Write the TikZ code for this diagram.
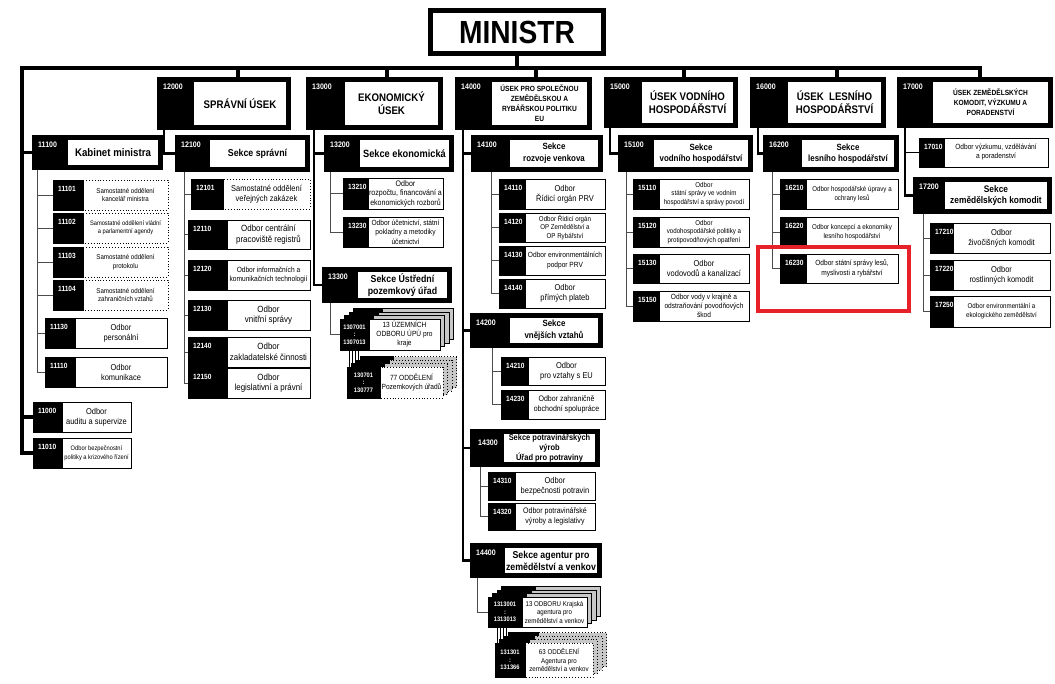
\documentclass[tikz,border=0pt]{standalone}
\usepackage{fontspec}
\setmainfont{Liberation Sans}[FakeStretch=0.88]
\usetikzlibrary{fit}
\definecolor{hl}{HTML}{E8202A}
\newcommand\fs[2]{\fontsize{#1}{#2}\selectfont}
\tikzset{
 busline/.style={line width=3.5pt},
 colline/.style={line width=2.4pt},
 subline/.style={line width=0.9pt, black!70},
 scode/.style={anchor=north west, inner sep=0pt, text=white, font=\fs{8}{9}\bfseries},
 stext/.style={align=center, inner sep=0pt, font=\fs{9.5}{11.5}\bfseries},
 ocode/.style={anchor=north west, inner sep=0pt, text=white, font=\fs{7.5}{9}\bfseries},
 otext/.style={align=center, inner sep=0pt, font=\fs{7.5}{9}},
 kcode/.style={align=center, inner sep=0pt, text=white, font=\fs{6.5}{7.5}\bfseries},
 wpart/.style={draw=black, line width=0.9pt, fill=white},
 gpart/.style={draw=black, line width=0.9pt, fill=black!22},
 dottedbox/.style={wpart/.append style={dotted}, gpart/.append style={dotted}},
 os/.style 2 args={otext/.append style={font=\fs{#1}{#2}}},
 ss/.style 2 args={stext/.append style={font=\fs{#1}{#2}\bfseries}},
}
% section box: [opts]{name}{x1}{inner x}{x2}{y1}{y2}{code}{title}
\newcommand\secbx[9][]{%
 \begin{scope}[#1]
 \fill[black] (#3,#6) rectangle (#5,#7);
 \fill[white] (#4,#6+5) rectangle (#5-5,#7-5);
 \path (#3,#6) coordinate (#2-nw) (#5,#7) coordinate (#2-se);
 \node[fit=(#2-nw)(#2-se), inner sep=0pt] (#2) {};
 \node[scode] at (#3+6,#6+7) {#8};
 \node[stext] at ({(#4+#5-5)/2},{(#6+#7)/2}) {#9};
 \end{scope}}
% odbor box: [opts]{name}{x1}{xb}{x2}{y1}{y2}{code}{title}
\newcommand\obx[9][]{%
 \begin{scope}[#1]
 \fill[black] (#3,#6) rectangle (#4,#7);
 \draw[wpart] (#4,#6) rectangle (#5,#7);
 \draw[line width=0.9pt] (#3,#6) rectangle (#4,#7);
 \path (#3,#6) coordinate (#2-nw) (#5,#7) coordinate (#2-se);
 \node[fit=(#2-nw)(#2-se), inner sep=0pt] (#2) {};
 \node[ocode] at (#3+5,#6+6) {#8};
 \node[otext] at ({(#4+#5)/2},{(#6+#7)/2}) {#9};
 \end{scope}}
% stacked boxes
\newcommand\stk[9][]{%
 \begin{scope}[#1]
 \foreach \i in {3,2,1}{
  \fill[black] (#3+4.5*\i,#6-3.5*\i) rectangle (#4+4.5*\i,#7-3.5*\i);
  \draw[gpart] (#4+4.5*\i,#6-3.5*\i) rectangle (#5+4.5*\i,#7-3.5*\i);
  \draw[line width=0.9pt] (#3+4.5*\i,#6-3.5*\i) rectangle (#4+4.5*\i,#7-3.5*\i);
 }
 \fill[black] (#3,#6) rectangle (#4,#7);
 \draw[wpart] (#4,#6) rectangle (#5,#7);
 \draw[line width=0.9pt] (#3,#6) rectangle (#4,#7);
 \path (#3,#6) coordinate (#2-nw) (#5,#7) coordinate (#2-se);
 \node[fit=(#2-nw)(#2-se), inner sep=0pt] (#2) {};
 \node[kcode] at ({(#3+#4)/2},{(#6+#7)/2}) {#8};
 \node[otext] at ({(#4+#5)/2},{(#6+#7)/2}) {#9};
 \end{scope}}

\begin{document}
\begin{tikzpicture}[x=1pt,y=-1pt]
\useasboundingbox (0,0) rectangle (1055,683);
\fill[white] (0,0) rectangle (1055,683);

\node[draw, line width=5pt, minimum width=173pt, minimum height=43pt, inner sep=0pt, font=\fs{32}{36}\bfseries] (ministr) at (517,32) {MINISTR};

% level 1
\secbx[ss={11}{13}]{n12000}{157}{194}{291}{77}{130}{12000}{SPRÁVNÍ ÚSEK}
\secbx[ss={11}{13}]{n13000}{306}{345}{443}{77}{130}{13000}{EKONOMICKÝ\\ÚSEK}
\secbx[ss={7.5}{10}]{n14000}{455}{492}{592}{77}{130}{14000}{ÚSEK PRO SPOLEČNOU\\ZEMĚDĚLSKOU A\\RYBÁŘSKOU POLITIKU\\EU}
\secbx[ss={11}{13}]{n15000}{604}{642}{738}{77}{128}{15000}{ÚSEK VODNÍHO\\HOSPODÁŘSTVÍ}
\secbx[ss={11}{13}]{n16000}{750}{788}{886}{77}{128}{16000}{ÚSEK\ \ LESNÍHO\\HOSPODÁŘSTVÍ}
\secbx[ss={7.5}{10}]{n17000}{897}{933}{1053}{77}{128}{17000}{ÚSEK ZEMĚDĚLSKÝCH\\KOMODIT, VÝZKUMU A\\PORADENSTVÍ}

% level 2
\secbx[ss={11}{13}]{n11100}{32}{68}{163}{135}{170}{11100}{Kabinet ministra}
\secbx[ss={10}{12}]{n12100}{175}{210}{310}{135}{172}{12100}{Sekce správní}
\secbx[ss={10.5}{12.5}]{n13200}{324}{360}{454}{135}{172}{13200}{Sekce ekonomická}
\secbx[ss={10}{12.5}]{n13300}{322}{358}{452}{267}{303}{13300}{Sekce Ústřední\\pozemkový úřad}
\secbx[ss={9}{12}]{n14100}{471}{510}{603}{135}{172}{14100}{Sekce\\rozvoje venkova}
\secbx[ss={9}{12}]{n14200}{470}{510}{603}{313}{348}{14200}{Sekce\\vnějších vztahů}
\secbx[ss={8.5}{10}, scode/.append style={xshift=2pt, yshift=-4pt}]{n14300}{470}{504}{600}{429}{467}{14300}{Sekce potravinářských\\výrob\\Úřad pro potraviny}
\secbx[ss={10}{12}]{n14400}{470}{505}{602}{543}{578}{14400}{Sekce agentur pro\\zemědělství a venkov}
\secbx[ss={9}{11.5}]{n15100}{618}{654}{753}{135}{172}{15100}{Sekce\\vodního hospodářství}
\secbx[ss={9}{11.5}]{n16200}{763}{802}{899}{135}{172}{16200}{Sekce\\lesního hospodářství}
\secbx[ss={9.5}{11.5}]{n17200}{913}{945}{1052}{177}{214}{17200}{Sekce\\zemědělských komodit}

% column 1
\obx[dottedbox, os={7}{8.5}]{n11101}{53}{83}{168}{180}{210}{11101}{Samostatné oddělení\\kancelář ministra}
\obx[dottedbox, os={6.5}{8.5}]{n11102}{53}{83}{168}{213}{243}{11102}{Samostatné oddělení vládní\\a parlamentní agendy}
\obx[dottedbox, os={7}{8.5}]{n11103}{53}{83}{168}{247}{277}{11103}{Samostatné oddělení\\protokolu}
\obx[dottedbox, os={7}{8.5}]{n11104}{53}{83}{168}{280}{310}{11104}{Samostatné oddělení\\zahraničních vztahů}
\obx[os={8.5}{10}]{n11130}{45}{75}{167}{318}{348}{11130}{Odbor\\personální}
\obx[os={8.5}{10}]{n11110}{45}{75}{167}{357}{387}{11110}{Odbor\\komunikace}
\obx[os={8.5}{10}]{n11000}{33}{62}{131}{402}{432}{11000}{Odbor\\auditu a supervize}
\obx[os={6.5}{9}]{n11010}{33}{62}{131}{438}{468}{11010}{Odbor bezpečnostní\\politiky a krizového řízení}

% column 2
\obx[dottedbox, os={8.5}{10}]{n12101}{191}{223}{310}{179}{209}{12101}{Samostatné oddělení\\veřejných zakázek}
\obx[os={9}{10.5}]{n12110}{188}{227}{310}{220}{249}{12110}{Odbor centrální\\pracoviště registrů}
\obx[os={7.5}{9.5}]{n12120}{188}{227}{310}{260}{290}{12120}{Odbor informačních a\\komunikačních technologií}
\obx[os={9}{10.5}]{n12130}{188}{227}{310}{300}{330}{12130}{Odbor\\vnitřní správy}
\obx[os={9}{10.5}]{n12140}{188}{227}{310}{337}{367}{12140}{Odbor\\zakladatelské činnosti}
\obx[os={9}{10.5}]{n12150}{188}{227}{310}{368}{398}{12150}{Odbor\\legislativní a právní}

% column 3
\obx[os={8}{9.5}]{n13210}{343}{368}{443}{178}{209}{13210}{Odbor\\rozpočtu, financování a\\ekonomických rozborů}
\obx[os={7.5}{9.5}]{n13230}{343}{368}{443}{217}{247}{13230}{Odbor účetnictví, státní\\pokladny a metodiky\\účetnictví}
\stk[os={7.5}{9}]{st1}{340}{369}{440}{319}{350}{1307001\\:\\1307013}{13 ÚZEMNÍCH\\ODBORU ÚPÚ pro\\kraje}
\stk[dottedbox, os={7.5}{9.5}]{st2}{347}{380}{443}{367}{398}{130701\\:\\130777}{77 ODDĚLENÍ\\Pozemkových úřadů}

% column 4
\obx[os={8.5}{10}]{n14110}{499}{525}{605}{179}{209}{14110}{Odbor\\Řídicí orgán PRV}
\obx[os={7}{8.5}]{n14120}{499}{525}{605}{213}{242}{14120}{Odbor Řídicí orgán\\OP Zemědělství a\\OP Rybářství}
\obx[os={7.5}{10}]{n14130}{499}{525}{605}{246}{275}{14130}{Odbor environmentálních\\podpor PRV}
\obx[os={8.5}{10}]{n14140}{499}{525}{605}{279}{308}{14140}{Odbor\\přímých plateb}
\obx[os={8.5}{10}]{n14210}{501}{528}{605}{357}{385}{14210}{Odbor\\pro vztahy s EU}
\obx[os={8}{10}]{n14230}{501}{528}{605}{390}{419}{14230}{Odbor zahraničně\\obchodní spolupráce}
\obx[os={8.5}{10}]{n14310}{488}{515}{595}{472}{500}{14310}{Odbor\\bezpečnosti potravin}
\obx[os={8}{10}]{n14320}{488}{515}{595}{503}{530}{14320}{Odbor potravinářské\\výroby a legislativy}
\stk[os={7}{8.5}]{st3}{488}{522}{587}{597}{627}{1313001\\:\\1313013}{13 ODBORU Krajská\\agentura pro\\zemědělství a venkov}
\stk[dottedbox, os={7}{8.5}]{st4}{495}{525}{593}{643}{677}{131301\\:\\131366}{63 ODDĚLENÍ\\Agentura pro\\zemědělství a venkov}

% column 5
\obx[os={7}{8.5}]{n15110}{633}{659}{749}{179}{209}{15110}{Odbor\\státní správy ve vodním\\hospodářství a správy povodí}
\obx[os={7}{8.5}]{n15120}{633}{659}{749}{217}{247}{15120}{Odbor\\vodohospodářské politiky a\\protipovodňových opatření}
\obx[os={8.5}{10}]{n15130}{633}{659}{749}{254}{283}{15130}{Odbor\\vodovodů a kanalizací}
\obx[os={7.5}{9}]{n15150}{633}{659}{749}{291}{321}{15150}{Odbor vody v krajině a\\odstraňování povodňových\\škod}

% column 6
\obx[os={7}{9}]{n16210}{780}{806}{898}{179}{209}{16210}{Odbor hospodářské úpravy a\\ochrany lesů}
\obx[os={7}{9}]{n16220}{780}{806}{898}{217}{247}{16220}{Odbor koncepcí a ekonomiky\\lesního hospodářství}
\obx[os={7.5}{9.5}]{n16230}{780}{806}{898}{254}{283}{16230}{Odbor státní správy lesů,\\myslivosti a rybářství}

% column 7
\obx[os={7.5}{9}]{n17010}{919}{944}{1048}{138}{167}{17010}{Odbor výzkumu, vzdělávání\\a poradenství}
\obx[os={8.5}{10}]{n17210}{930}{953}{1050}{223}{253}{17210}{Odbor\\živočišných komodit}
\obx[os={8.5}{10}]{n17220}{930}{953}{1050}{260}{290}{17220}{Odbor\\rostlinných komodit}
\obx[os={7}{9}]{n17250}{930}{953}{1050}{296}{327}{17250}{Odbor environmentální a\\ekologického zemědělství}

% ---- connectors ----
\coordinate (busL) at (22,68);
\coordinate (busR) at (980,68);
\coordinate (b12) at (238,68);
\coordinate (b13) at (387,68);
\coordinate (b14) at (536,68);
\coordinate (b15) at (684,68);
\coordinate (b16) at (837,68);
\draw[busline] (ministr.south) -- (ministr.south |- busL);
\draw[busline] (busR |- n17000.north) -- (busR) -- (busL) |- (n11010.west);
\draw[busline] (busL |- n11100.west) -- (n11100.west);
\draw[busline] (busL |- n11000.west) -- (n11000.west);
\foreach \b/\n in {b12/n12000, b13/n13000, b14/n14000, b15/n15000, b16/n16000}
  \draw[busline] (\b) -- (\b |- \n.north);

\coordinate (c12) at (164,130);
\coordinate (c13) at (314,130);
\coordinate (c14) at (463,130);
\coordinate (c15) at (610,128);
\coordinate (c16) at (758,128);
\coordinate (c17) at (905,128);
\draw[colline] (c12) |- (n12100.west);
\draw[colline] (c13) |- (n13300.west);
\draw[colline] (c13 |- n13200.west) -- (n13200.west);
\draw[colline] (c14) |- (n14400.west);
\foreach \n in {n14100,n14200,n14300} \draw[colline] (c14 |- \n.west) -- (\n.west);
\draw[colline] (c15) |- (n15100.west);
\draw[colline] (c16) |- (n16200.west);
\draw[colline] (c17) |- (n17200.west);
\draw[line width=1.2pt] (c17 |- n17010.west) -- (n17010.west);

\coordinate (s111) at (37,170);
\coordinate (s121) at (184,172);
\coordinate (s132) at (330,172);
\coordinate (s133) at (330,303);
\coordinate (s141) at (491,172);
\coordinate (s142) at (492,348);
\coordinate (s143) at (480,467);
\coordinate (s144) at (477,578);
\coordinate (s151) at (626,172);
\coordinate (s162) at (772,172);
\coordinate (s172) at (923,214);
\draw[subline] (s111) |- (n11110.west);
\foreach \n in {n11101,n11102,n11103,n11104,n11130} \draw[subline] (s111 |- \n.west) -- (\n.west);
\draw[subline] (s121) |- (n12150.west);
\foreach \n in {n12101,n12110,n12120,n12130,n12140} \draw[subline] (s121 |- \n.west) -- (\n.west);
\draw[subline] (s132) |- (n13230.west);
\draw[subline] (s132 |- n13210.west) -- (n13210.west);
\draw[subline] (s133) |- (st1.west);
\draw[subline] (s141) |- (n14140.west);
\foreach \n in {n14110,n14120,n14130} \draw[subline] (s141 |- \n.west) -- (\n.west);
\draw[subline] (s142) |- (n14230.west);
\draw[subline] (s142 |- n14210.west) -- (n14210.west);
\draw[subline] (s143) |- (n14320.west);
\draw[subline] (s143 |- n14310.west) -- (n14310.west);
\draw[subline] (s144) |- (st3.west);
\draw[subline] (s151) |- (n15150.west);
\foreach \n in {n15110,n15120,n15130} \draw[subline] (s151 |- \n.west) -- (\n.west);
\draw[subline] (s162) |- (n16230.west);
\foreach \n in {n16210,n16220} \draw[subline] (s162 |- \n.west) -- (\n.west);
\draw[subline] (s172) |- (n17250.west);
\foreach \n in {n17210,n17220} \draw[subline] (s172 |- \n.west) -- (\n.west);

\foreach \d in {10,13,16,19} \draw[line width=0.7pt] (st1.south west) ++(\d,0) -- ++(0,17);
\foreach \d in {10,13,16,19} \draw[line width=0.7pt] (st3.south west) ++(\d,0) -- ++(0,16);

\draw[hl, line width=3.5pt] (758,247) rectangle (909,311);
\end{tikzpicture}
\end{document}
